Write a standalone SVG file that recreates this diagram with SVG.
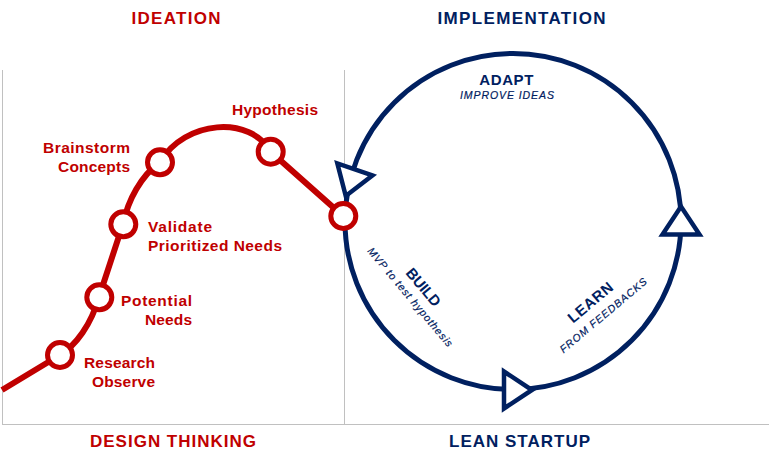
<svg xmlns="http://www.w3.org/2000/svg" width="769" height="464" viewBox="0 0 769 464">
<style>
.title{font-family:"Liberation Sans",Arial,sans-serif;font-weight:bold;font-size:17px}
.red{fill:#c00000}
.navy{fill:#002060}
.lbl{font-family:"Liberation Sans",Arial,sans-serif;font-weight:bold;font-size:15.5px;fill:#c00000}
.clbl{font-family:"Liberation Sans",Arial,sans-serif;font-weight:bold;font-size:15px;fill:#002060}
.csub{font-family:"Liberation Sans",Arial,sans-serif;font-style:italic;font-size:10.5px;fill:#002060;stroke:#002060;stroke-width:0.2}
.grid{stroke:#c0c0c0;stroke-width:1;fill:none}
.dot{fill:#fff;stroke:#c00000;stroke-width:5}
.tri{fill:#fff;stroke:#002060;stroke-width:4.5;stroke-linejoin:miter}
</style>
<defs>
<polygon id="arrow" points="-14,-18.5 -14,18.5 14,0"/>
</defs>
<rect width="769" height="464" fill="#fff"/>
<g id="frame">
<line class="grid" x1="2.5" y1="70" x2="2.5" y2="424"/>
<line class="grid" x1="344.5" y1="70" x2="344.5" y2="424"/>
<line class="grid" x1="2" y1="424.5" x2="769" y2="424.5"/>
</g>
<g id="titles">
<text class="title red" x="176" y="23.5" text-anchor="middle" textLength="89">IDEATION</text>
<text class="title navy" x="521.5" y="23.5" text-anchor="middle" textLength="168">IMPLEMENTATION</text>
<text class="title red" x="173" y="446.5" text-anchor="middle" textLength="166">DESIGN THINKING</text>
<text class="title navy" x="519.5" y="446.5" text-anchor="middle" textLength="141">LEAN STARTUP</text>
</g>
<g id="connectors">
<path d="M2 390 L60 355 C76 345 91 325 99 297 L123 224 C128 200 141 176 160 162 C185 120 250 115 271 152 L343 216" fill="none" stroke="#c00000" stroke-width="6"/>
<circle cx="513" cy="221.5" r="168" fill="none" stroke="#002060" stroke-width="5"/>
<use href="#arrow" class="tri" transform="translate(350.3,182.7) rotate(109)"/>
<use href="#arrow" class="tri" transform="translate(518,390)"/>
<use href="#arrow" class="tri" transform="translate(681,220.5) rotate(-90)"/>
</g>
<g id="node-research">
<circle class="dot" cx="60" cy="355" r="12.5"/>
<text class="lbl" x="155" y="368" text-anchor="end" textLength="71">Research</text>
<text class="lbl" x="155" y="387" text-anchor="end" textLength="63">Observe</text>
</g>
<g id="node-potential">
<circle class="dot" cx="99.3" cy="297.3" r="12.5"/>
<text class="lbl" x="192" y="306" text-anchor="end" textLength="71">Potential</text>
<text class="lbl" x="192" y="325" text-anchor="end" textLength="47">Needs</text>
</g>
<g id="node-validate">
<circle class="dot" cx="123.3" cy="224.3" r="12.5"/>
<text class="lbl" x="148" y="231.5" textLength="64">Validate</text>
<text class="lbl" x="148" y="250.5" textLength="134">Prioritized Needs</text>
</g>
<g id="node-brainstorm">
<circle class="dot" cx="160" cy="162.3" r="12.5"/>
<text class="lbl" x="130" y="152.5" text-anchor="end" textLength="87">Brainstorm</text>
<text class="lbl" x="130" y="171.5" text-anchor="end" textLength="72">Concepts</text>
</g>
<g id="node-hypothesis">
<circle class="dot" cx="270.7" cy="151.7" r="12.5"/>
<text class="lbl" x="232" y="115" textLength="86">Hypothesis</text>
</g>
<g id="node-handoff">
<circle class="dot" cx="343.3" cy="216" r="12.5"/>
</g>
<g id="node-adapt">
<text class="clbl" x="506.3" y="85" text-anchor="middle" textLength="54">ADAPT</text>
<text class="csub" x="507" y="98.5" text-anchor="middle" textLength="94">IMPROVE IDEAS</text>
</g>
<g id="node-build" transform="translate(419.5,290.5) rotate(50)">
<text class="clbl" x="0" y="0" text-anchor="middle" textLength="45">BUILD</text>
<text class="csub" x="-1" y="15" text-anchor="middle" textLength="126">MVP to test hypothesis</text>
</g>
<g id="node-learn" transform="translate(593.7,306.3) rotate(-40)">
<text class="clbl" x="0" y="0" text-anchor="middle" textLength="54">LEARN</text>
<text class="csub" x="1.5" y="16.7" text-anchor="middle" textLength="110">FROM FEEDBACKS</text>
</g>
</svg>
